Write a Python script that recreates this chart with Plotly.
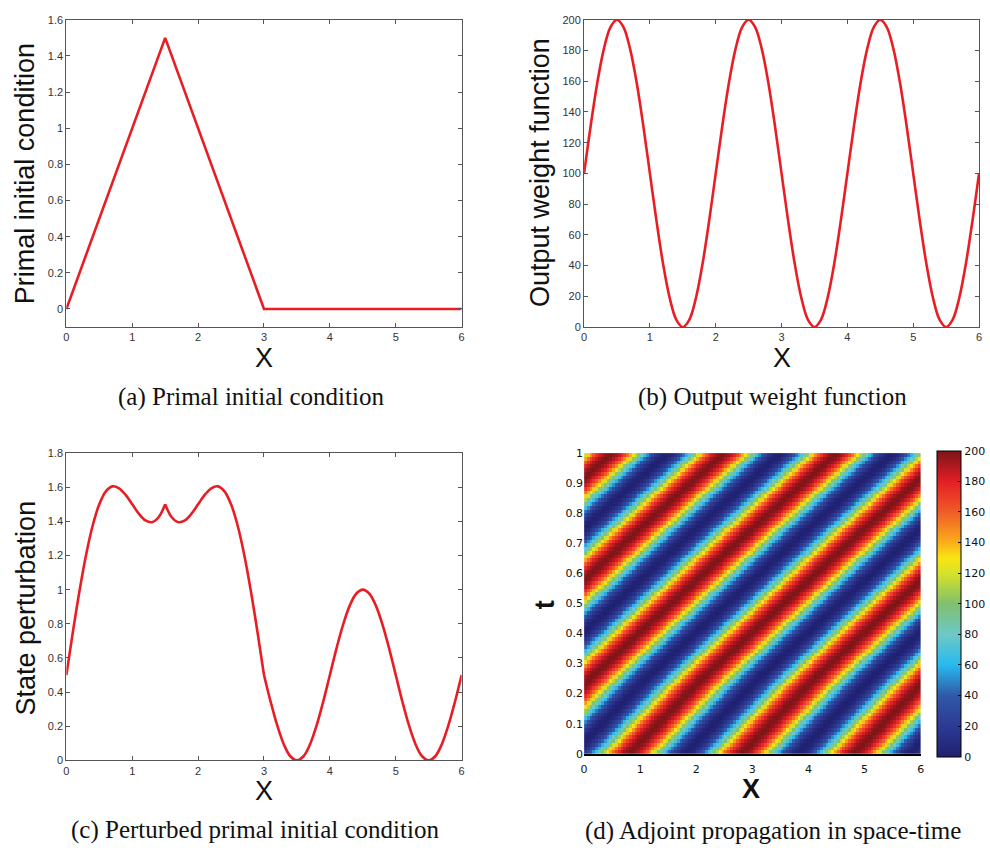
import numpy as np
import plotly.graph_objects as go

W, H = 990, 856

# ---------------- data ----------------
X_TICKS = [0, 1, 2, 3, 4, 5, 6]

# (a) primal initial condition (piecewise linear)
PRIMAL_X = [0.0, 1.5, 3.0, 6.0]
PRIMAL_U = [0.0, 1.5, 0.0, 0.0]

# sampling positions for (b) and (c), step 0.1
GRID_X = [round(0.1 * i, 1) for i in range(61)]

# (b) output weight function
WEIGHT = [100, 130.9, 158.8, 180.9, 195.1, 200, 195.1, 180.9, 158.8, 130.9,
          100, 69.1, 41.2, 19.1, 4.9, 0, 4.9, 19.1, 41.2, 69.1,
          100, 130.9, 158.8, 180.9, 195.1, 200, 195.1, 180.9, 158.8, 130.9,
          100, 69.1, 41.2, 19.1, 4.9, 0, 4.9, 19.1, 41.2, 69.1,
          100, 130.9, 158.8, 180.9, 195.1, 200, 195.1, 180.9, 158.8, 130.9,
          100, 69.1, 41.2, 19.1, 4.9, 0, 4.9, 19.1, 41.2, 69.1,
          100]

# (c) perturbed primal initial condition
PERTURBED = [0.5, 0.755, 0.994, 1.205, 1.376, 1.5, 1.576, 1.605, 1.594, 1.555,
             1.5, 1.445, 1.406, 1.395, 1.424, 1.5, 1.424, 1.395, 1.406, 1.445,
             1.5, 1.555, 1.594, 1.605, 1.576, 1.5, 1.376, 1.205, 0.994, 0.755,
             0.5, 0.345, 0.206, 0.095, 0.024, 0.0, 0.024, 0.095, 0.206, 0.345,
             0.5, 0.655, 0.794, 0.905, 0.976, 1.0, 0.976, 0.905, 0.794, 0.655,
             0.5, 0.345, 0.206, 0.095, 0.024, 0.0, 0.024, 0.095, 0.206, 0.345,
             0.5]
# indices of the non-smooth points of (c) (cusp at x=1.5, kink at x=3)
C_BREAKS = [0, 15, 30, 60]

# (d) adjoint: band displacement (in x) of the weight pattern vs. time, read from the stripes
ADJ_T = [0.0, 0.25, 0.5, 0.75, 1.0]
ADJ_SHIFT = [5.7, 4.4, 2.95, 1.5, 0.0]
CBAR_TICKS = [0, 20, 40, 60, 80, 100, 120, 140, 160, 180, 200]

# heatmap grid (cell centres)
hx = np.linspace(0.025, 5.975, 120)
ht = np.linspace(0.00625, 0.99375, 80)
shift = np.interp(ht, ADJ_T, ADJ_SHIFT)
Z = np.interp(np.mod(hx[None, :] + shift[:, None], 6.0), GRID_X, WEIGHT)

# ---------------- helpers ----------------
def px(x):
    return x / W

def py(y):
    return 1 - y / H

RED = "rgb(232,30,36)"
AX = "#555555"
TICKFONT = dict(family="Liberation Sans, Arial, sans-serif", size=11, color="#333333")

fig = go.Figure()

fig.add_trace(go.Scatter(x=PRIMAL_X, y=PRIMAL_U, mode="lines",
                         line=dict(color=RED, width=2.6), xaxis="x", yaxis="y",
                         showlegend=False))
fig.add_trace(go.Scatter(x=GRID_X, y=WEIGHT, mode="lines",
                         line=dict(color=RED, width=2.6, shape="spline", smoothing=1),
                         xaxis="x2", yaxis="y2", showlegend=False))
for a, b in zip(C_BREAKS[:-1], C_BREAKS[1:]):
    fig.add_trace(go.Scatter(x=GRID_X[a:b + 1], y=PERTURBED[a:b + 1], mode="lines",
                             line=dict(color=RED, width=2.6, shape="spline", smoothing=1),
                             xaxis="x3", yaxis="y3", showlegend=False))

JET = [
    [0.0, "rgb(32,32,112)"],
    [0.1, "rgb(44,58,148)"],
    [0.2, "rgb(48,88,168)"],
    [0.3, "rgb(40,185,238)"],
    [0.4, "rgb(110,200,200)"],
    [0.5, "rgb(128,192,110)"],
    [0.6, "rgb(214,226,40)"],
    [0.65, "rgb(250,228,20)"],
    [0.7, "rgb(250,175,25)"],
    [0.8, "rgb(240,92,40)"],
    [0.9, "rgb(228,30,38)"],
    [1.0, "rgb(124,20,24)"],
]

fig.add_trace(go.Heatmap(x=hx, y=ht, z=Z, zmin=0, zmax=200, colorscale=JET,
                         zsmooth=False, xaxis="x4", yaxis="y4",
                         colorbar=dict(
                             x=px(944), xanchor="left", xpad=0,
                             y=py(607), yanchor="middle", ypad=0,
                             len=306, lenmode="pixels",
                             thickness=24, thicknessmode="pixels",
                             outlinecolor="black", outlinewidth=1,
                             tickvals=CBAR_TICKS, ticks="inside", ticklen=3,
                             tickcolor="black",
                             tickfont=dict(family="DejaVu Sans, sans-serif", size=11, color="#111"),
                         )))

def axis(domain, rng, dtick, tickvals=None, **kw):
    d = dict(domain=domain, range=rng, showline=True, linecolor=AX, linewidth=1,
             mirror="allticks", ticks="inside", ticklen=4, tickcolor=AX,
             showgrid=False, zeroline=False, tickfont=TICKFONT, fixedrange=True)
    if tickvals is not None:
        d["tickvals"] = tickvals
    else:
        d["tick0"] = 0
        d["dtick"] = dtick
    d.update(kw)
    return d

top_dom = [py(326), py(14)]
bot_dom_c = [py(766), py(454)]
left_dom = [px(64), px(463.3)]
right_dom = [px(587), px(986)]

fig.update_layout(
    width=W, height=H, autosize=False,
    margin=dict(l=0, r=0, t=0, b=0),
    paper_bgcolor="white", plot_bgcolor="white",
    xaxis=axis(left_dom, [0, 6], 1, X_TICKS, anchor="y"),
    yaxis=axis(top_dom, [-0.1, 1.6], 0.2, anchor="x"),
    xaxis2=axis(right_dom, [0, 6], 1, X_TICKS, anchor="y2"),
    yaxis2=axis(top_dom, [0, 200], 20, anchor="x2"),
    xaxis3=axis(left_dom, [0, 6], 1, X_TICKS, anchor="y3"),
    yaxis3=axis(bot_dom_c, [0, 1.8], 0.2, anchor="x3"),
    xaxis4=dict(domain=[px(587), px(927)], range=[0, 6], tickvals=X_TICKS,
                anchor="y4", showline=True, linecolor="black", linewidth=1.5,
                ticks="outside", ticklen=4, tickcolor="rgba(0,0,0,0)",
                showgrid=False, zeroline=False, fixedrange=True,
                tickfont=dict(family="DejaVu Sans, sans-serif", size=11, color="#111")),
    yaxis4=dict(domain=[py(759.3), py(454)], range=[0, 1], tick0=0, dtick=0.1,
                anchor="x4", showline=False, ticks="", showgrid=False,
                zeroline=False, fixedrange=True,
                tickfont=dict(family="DejaVu Sans, sans-serif", size=11, color="#111")),
)

SANS = "Liberation Sans, Arial, sans-serif"
SERIF = "Liberation Serif, Times New Roman, serif"
ann = []

def text(x, y, s, size, family=SANS, angle=0, color="#111"):
    ann.append(dict(x=px(x), y=py(y), xref="paper", yref="paper", text=s,
                    showarrow=False, xanchor="center", yanchor="middle",
                    textangle=angle, font=dict(family=family, size=size, color=color)))

# y titles
text(23, 170, "Primal initial condition", 27, angle=-90)
text(543, 169, "Output weight function", 27, angle=-90)
text(23, 611, "State perturbation", 27, angle=-90)
text(547, 608, "<b>t</b>", 27, angle=-90)
# x titles
text(263.5, 357, "X", 27)
text(787, 357, "X", 27)
text(263.5, 797, "X", 27)
text(756, 795, "<b>X</b>", 27)
# captions
text(250.5, 397, "(a) Primal initial condition", 25, family=SERIF)
text(777.5, 397, "(b) Output weight function", 25, family=SERIF)
text(254.7, 837, "(c) Perturbed primal initial condition", 25, family=SERIF)
text(778, 838, "(d) Adjoint propagation in space-time", 25, family=SERIF)

fig.update_layout(annotations=ann)

fig.write_html("out.html", config={"responsive": False, "displayModeBar": False},
               post_script="document.body.style.margin='0';document.body.style.overflow='hidden';")
